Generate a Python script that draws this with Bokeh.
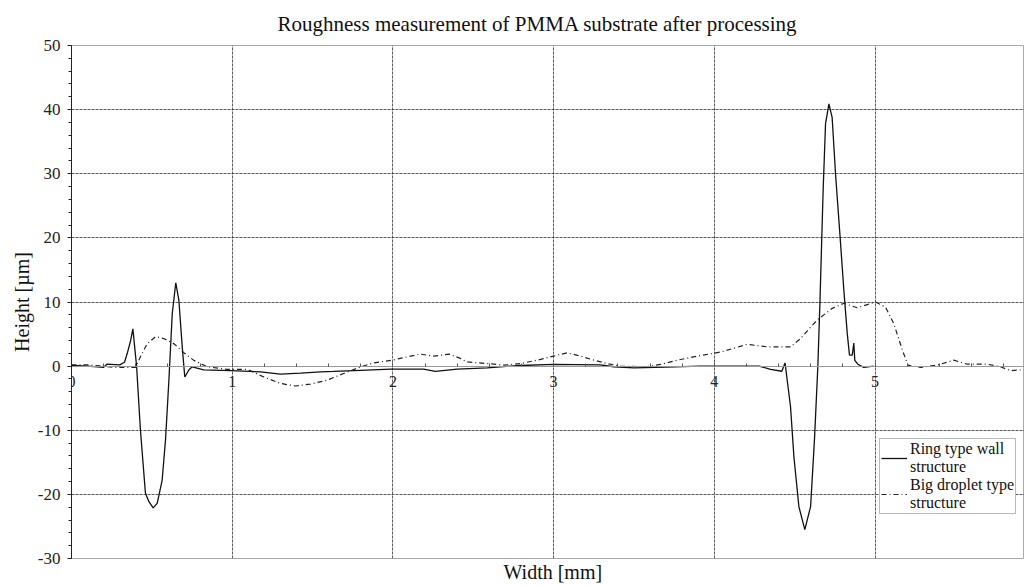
from bokeh.plotting import figure
from bokeh.models import (ColumnDataSource, SingleIntervalTicker, Title, Legend, LegendItem,
                          Range1d, CustomJSTickFormatter)
from bokeh.embed import file_html
from bokeh.resources import INLINE

# ---- data ----
ring_x = [0.0, 0.1, 0.2, 0.22, 0.3, 0.33, 0.347, 0.368, 0.382, 0.393, 0.405, 0.429, 0.46, 0.481,
          0.508, 0.533, 0.564, 0.585, 0.606, 0.627, 0.649, 0.668, 0.689, 0.705, 0.73, 0.751, 0.823,
          0.99, 1.176, 1.30, 1.425, 1.55, 1.63, 1.80, 1.985, 2.19, 2.265, 2.4, 2.587, 2.794, 3.0,
          3.29, 3.375, 3.5, 3.7, 3.91, 4.28, 4.35, 4.42, 4.44, 4.474, 4.495, 4.526, 4.563, 4.599,
          4.623, 4.644, 4.657, 4.677, 4.692, 4.713, 4.733, 4.754, 4.781, 4.806, 4.827, 4.841, 4.858,
          4.868, 4.874, 4.893, 4.93, 4.99]
ring_y = [0.1, 0.0, -0.2, 0.3, 0.2, 0.6, 2.0, 4.0, 5.8, 3.0, 0.0, -10.0, -19.8, -21.1,
          -22.1, -21.4, -17.8, -11.5, -2.2, 8.2, 13.0, 10.3, 3.0, -1.7, -0.6, -0.1, -0.6,
          -0.7, -0.9, -1.25, -1.1, -0.9, -0.83, -0.65, -0.47, -0.47, -0.83, -0.47, -0.26, 0.1, 0.26,
          0.2, -0.1, -0.26, -0.15, 0.0, 0.0, -0.5, -0.8, 0.5, -6.3, -14.1, -21.9, -25.5, -21.9,
          -11.5, -0.1, 9.8, 27.4, 37.8, 40.9, 38.8, 30.0, 20.7, 11.8, 5.1, 1.7, 1.7,
          3.6, 0.9, 0.3, -0.2, 0.0]

drop_x = [0.0, 0.1, 0.2, 0.263, 0.398, 0.429, 0.471, 0.523, 0.574, 0.637, 0.699, 0.761, 0.844,
          0.969, 1.093, 1.197, 1.30, 1.394, 1.487, 1.59, 1.694, 1.80, 1.88, 1.996, 2.11, 2.17,
          2.255, 2.35, 2.42, 2.46, 2.587, 2.69, 2.794, 2.918, 3.0, 3.085, 3.167, 3.25, 3.333,
          3.416, 3.58, 3.665, 3.77, 3.87, 4.04, 4.205, 4.33, 4.474, 4.536, 4.64, 4.733, 4.806,
          4.889, 5.003, 5.065, 5.117, 5.17, 5.205, 5.283, 5.387, 5.49, 5.574, 5.698, 5.78,
          5.843, 5.905]
drop_y = [0.2, 0.2, 0.0, -0.2, -0.2, 1.45, 3.5, 4.6, 4.3, 3.5, 2.1, 0.9, -0.1,
          -0.5, -0.5, -1.7, -2.7, -3.1, -2.8, -2.2, -1.15, -0.1, 0.5, 0.93, 1.56, 1.87,
          1.56, 1.87, 1.2, 0.67, 0.4, 0.15, 0.4, 1.04, 1.56, 2.07, 1.56, 0.93, 0.4,
          0.0, -0.1, 0.26, 0.93, 1.45, 2.2, 3.4, 3.0, 3.0, 4.3, 7.2, 9.0, 9.8,
          9.1, 10.0, 9.2, 6.6, 2.5, 0.15, -0.2, 0.15, 0.93, 0.3, 0.3, -0.1,
          -0.7, -0.6]

series_names = ["Ring type wall\nstructure", "Big droplet type\nstructure"]
title_text = "Roughness measurement of PMMA substrate after processing"
x_label = "Width [mm]"
y_label = "Height [\u00b5m]"

FONT = "Liberation Serif"

p = figure(width=1024, height=585, output_backend="svg", toolbar_location=None,
           x_range=Range1d(0, 5.93), y_range=Range1d(-30, 50),
           min_border_left=71, min_border_right=0, min_border_top=45, min_border_bottom=27)
p.title = None

title = Title(text=title_text, align="left", text_font=FONT, text_font_size="21px",
              text_font_style="normal", text_color="#111111", offset=206, standoff=19)
p.add_layout(title, "above")

xt = Title(text=x_label, align="left", text_font=FONT, text_font_size="20px",
           text_font_style="normal", text_color="#111111", offset=432, standoff=1)
p.add_layout(xt, "below")

fmt = CustomJSTickFormatter(code="return tick.toString();")

# axes
xa = p.xaxis[0]
xa.fixed_location = 0
xa.ticker = SingleIntervalTicker(interval=1, num_minor_ticks=5)
xa.formatter = fmt
xa.axis_line_color = "#999999"
xa.major_tick_in = 4
xa.major_tick_out = 0
xa.minor_tick_in = 3
xa.minor_tick_out = 0
xa.major_tick_line_color = "#555555"
xa.minor_tick_line_color = "#555555"
xa.major_label_standoff = 10
xa.major_label_text_font = FONT
xa.major_label_text_font_size = "16px"
xa.major_label_text_color = "#222222"

ya = p.yaxis[0]
ya.ticker = SingleIntervalTicker(interval=10, num_minor_ticks=5)
ya.formatter = fmt
ya.axis_line_color = "#222222"
ya.major_tick_in = 0
ya.major_tick_out = 4
ya.minor_tick_in = 0
ya.minor_tick_out = 3
ya.major_tick_line_color = "#222222"
ya.minor_tick_line_color = "#222222"
ya.major_label_standoff = 7
ya.major_label_text_font = FONT
ya.major_label_text_font_size = "17px"
ya.major_label_text_color = "#222222"
ya.axis_label = y_label
ya.axis_label_text_font = FONT
ya.axis_label_text_font_size = "20px"
ya.axis_label_text_font_style = "normal"
ya.axis_label_text_color = "#111111"
ya.axis_label_standoff = 2

# grid
p.xgrid.ticker = SingleIntervalTicker(interval=1)
p.ygrid.ticker = SingleIntervalTicker(interval=10)
for g in (p.xgrid[0], p.ygrid[0]):
    g.grid_line_color = "#333333"
    g.grid_line_dash = "3 1"
    g.grid_line_width = 1
    g.grid_line_alpha = 0.8

p.outline_line_color = "#aaaaaa"
p.outline_line_width = 1
p.background_fill_color = "white"
p.border_fill_color = "white"

src_r = ColumnDataSource(dict(x=ring_x, y=ring_y))
src_d = ColumnDataSource(dict(x=drop_x, y=drop_y))
r1 = p.line("x", "y", source=src_r, line_color="#111111", line_width=1.3)
r2 = p.line("x", "y", source=src_d, line_color="#222222", line_width=1.2, line_dash="5 3 1 3")

legend = Legend(items=[LegendItem(label=series_names[0], renderers=[r1]),
                       LegendItem(label=series_names[1], renderers=[r2])],
                location=(808, 44), label_text_font=FONT, label_text_font_size="16px",
                label_text_color="#111111", glyph_width=26, label_standoff=3,
                padding=1, spacing=-4, margin=0, border_line_color="#777777",
                border_line_width=1, background_fill_alpha=1.0)
p.add_layout(legend, "center")

open("out.html", "w").write(file_html(p, INLINE))
